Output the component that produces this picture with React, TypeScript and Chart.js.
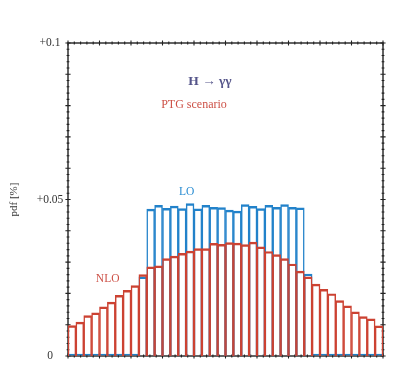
import React, { useEffect, useRef } from 'react';
import { Chart, registerables } from 'chart.js';

Chart.register(...registerables);

// ---- data ----
const binLabels = [
  '1', '2', '3', '4', '5', '6', '7', '8', '9', '10',
  '11', '12', '13', '14', '15', '16', '17', '18', '19', '20',
  '21', '22', '23', '24', '25', '26', '27', '28', '29', '30',
  '31', '32', '33', '34', '35', '36', '37', '38', '39', '40',
];

const nloValues = [
  0.0097, 0.0108, 0.0129, 0.0138, 0.0157, 0.0172, 0.0194, 0.0210, 0.0225, 0.0260,
  0.0285, 0.0288, 0.0311, 0.0319, 0.0328, 0.0335, 0.0343, 0.0343, 0.0360, 0.0357,
  0.0362, 0.0361, 0.0356, 0.0364, 0.0349, 0.0334, 0.0324, 0.0311, 0.0294, 0.0271,
  0.0253, 0.0230, 0.0213, 0.0199, 0.0177, 0.0160, 0.0141, 0.0126, 0.0119, 0.0096,
];

const loValues = [
  0, 0, 0, 0, 0, 0, 0, 0, 0, 0.0253,
  0.0469, 0.0481, 0.0472, 0.0479, 0.0471, 0.0487, 0.0470, 0.0481, 0.0475, 0.0474,
  0.0466, 0.0463, 0.0484, 0.0478, 0.0471, 0.0481, 0.0475, 0.0484, 0.0475, 0.0473,
  0.0262, 0, 0, 0, 0, 0, 0, 0, 0, 0,
];

const yTickValues = [0, 0.05, 0.1];
const yTickLabels = ['0', '+0.05', '+0.1'];
const yAxisTitle = 'pdf [%]';

const RED = 'rgb(204, 66, 50)';
const BLUE = 'rgb(34, 130, 202)';
const SERIF = '"Liberation Serif", "DejaVu Serif", serif';

const annotations = [
  { text: 'H \u2192 \u03b3\u03b3', bin: 17.53, value: 0.0876, color: '#55558a', size: 13.5, weight: 'bold' },
  { text: 'PTG scenario', bin: 15.5, value: 0.0802, color: 'rgb(205, 80, 70)', size: 12, weight: 'normal' },
  { text: 'LO', bin: 14.57, value: 0.0524, color: 'rgb(40, 140, 210)', size: 11.5, weight: 'normal' },
  { text: 'NLO', bin: 4.54, value: 0.0246, color: 'rgb(205, 80, 70)', size: 11.5, weight: 'normal' },
];

const framePlugin = {
  id: 'frameTicks',
  beforeDatasetsDraw(chart: any) {
    const { ctx, chartArea } = chart;
    const { left, right, top, bottom } = chartArea;
    const y = chart.scales.y;
    ctx.save();
    ctx.strokeStyle = '#222';
    ctx.lineWidth = 1.4;
    ctx.strokeRect(left, top, right - left, bottom - top);
    ctx.lineWidth = 1.1;
    // x ticks (10 major divisions, 5 minor each)
    const n = 50;
    for (let i = 0; i <= n; i++) {
      const px = left + ((right - left) * i) / n;
      const half = i % 5 === 0 ? 2.6 : 1.4;
      ctx.beginPath();
      ctx.moveTo(px, bottom - half);
      ctx.lineTo(px, bottom + half);
      ctx.moveTo(px, top - half);
      ctx.lineTo(px, top + half);
      ctx.stroke();
    }
    // y ticks every 0.002, major every 0.01
    for (let i = 0; i <= 50; i++) {
      const py = y.getPixelForValue(i * 0.002);
      const half = i % 5 === 0 ? 2.6 : 1.4;
      ctx.beginPath();
      ctx.moveTo(left - half, py);
      ctx.lineTo(left + half, py);
      ctx.moveTo(right - half, py);
      ctx.lineTo(right + half, py);
      ctx.stroke();
    }
    // y tick labels
    ctx.fillStyle = '#333';
    ctx.font = `11.5px ${SERIF}`;
    ctx.textAlign = 'center';
    ctx.textBaseline = 'middle';
    yTickValues.forEach((v, i) => {
      ctx.fillText(yTickLabels[i], 50, y.getPixelForValue(v));
    });
    // y title
    ctx.save();
    ctx.translate(14, (top + bottom) / 2);
    ctx.rotate(-Math.PI / 2);
    ctx.font = `11px ${SERIF}`;
    ctx.fillText(yAxisTitle, 0, 0);
    ctx.restore();
    ctx.restore();
  },
  afterDatasetsDraw(chart: any) {
    const { ctx } = chart;
    const x = chart.scales.x;
    const y = chart.scales.y;
    ctx.save();
    ctx.textAlign = 'center';
    ctx.textBaseline = 'middle';
    annotations.forEach((a) => {
      ctx.fillStyle = a.color;
      ctx.font = `${a.weight} ${a.size}px ${SERIF}`;
      ctx.fillText(a.text, x.getPixelForValue(a.bin), y.getPixelForValue(a.value));
    });
    ctx.restore();
  },
};

export default function App() {
  const ref = useRef<HTMLCanvasElement>(null);
  useEffect(() => {
    if (!ref.current) return;
    const chart = new Chart(ref.current, {
      type: 'bar',
      data: {
        labels: binLabels,
        datasets: [
          {
            label: 'NLO',
            data: nloValues,
            borderColor: RED,
            backgroundColor: 'rgba(255,255,255,0)',
            borderWidth: { top: 1.8, left: 0.85, right: 0.85, bottom: 0 },
            borderSkipped: 'start',
            grouped: false,
            barPercentage: 1,
            categoryPercentage: 1,
            order: 0,
          } as any,
          {
            label: 'LO',
            data: loValues,
            borderColor: BLUE,
            backgroundColor: 'rgba(255,255,255,0)',
            borderWidth: { top: 1.8, left: 0.85, right: 0.85, bottom: 0 },
            borderSkipped: 'start',
            minBarLength: 2,
            grouped: false,
            barPercentage: 1,
            categoryPercentage: 1,
            order: 1,
          } as any,
        ],
      },
      options: {
        animation: false,
        responsive: true,
        maintainAspectRatio: false,
        layout: { padding: { left: 68, right: 36, top: 43, bottom: 9 } },
        plugins: { legend: { display: false }, tooltip: { enabled: false } },
        scales: {
          x: { type: 'category', display: false, offset: true },
          y: { type: 'linear', display: false, min: 0, max: 0.1 },
        },
      },
      plugins: [framePlugin],
    });
    return () => chart.destroy();
  }, []);
  return (
    <div style={{ position: 'fixed', left: 0, top: 0, width: 419, height: 365, background: '#fff' }}>
      <canvas ref={ref} />
    </div>
  );
}
